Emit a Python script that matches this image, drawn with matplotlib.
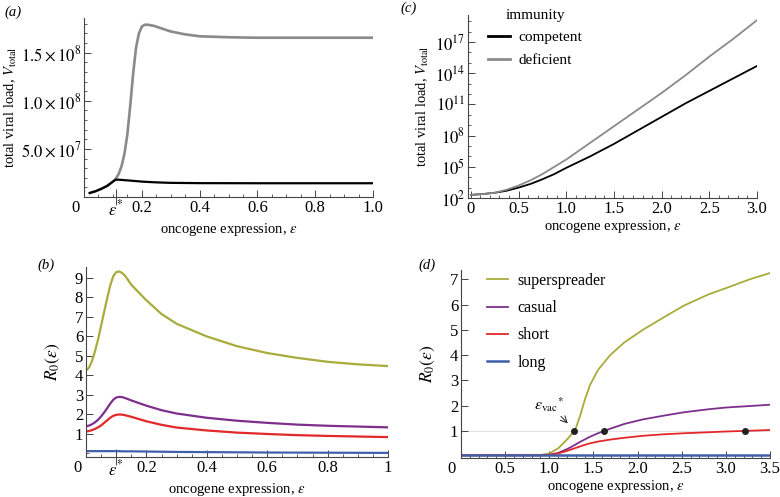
import matplotlib
matplotlib.use("Agg")
import matplotlib.pyplot as plt
import numpy as np
from matplotlib.ticker import MultipleLocator, FixedLocator, NullFormatter

plt.rcParams['font.family'] = ['Liberation Serif', 'DejaVu Serif']
plt.rcParams['mathtext.fontset'] = 'stix'
plt.rcParams['font.size'] = 10

# ---- panel (a): total viral load vs oncogene expression (linear) ----
eps_a_def = [0.02, 0.04, 0.06, 0.08, 0.10, 0.11, 0.12, 0.13, 0.14, 0.15, 0.16, 0.17, 0.18,
             0.19, 0.20, 0.21, 0.22, 0.24, 0.27, 0.30, 0.35, 0.40, 0.50, 0.60, 0.80, 1.00]
deficient_a = [0.42, 0.6, 0.85, 1.15, 1.6, 1.9, 2.4, 3.2, 4.5, 6.5, 9.5, 12.8, 15.5,
               17.0, 17.7, 17.9, 17.9, 17.8, 17.5, 17.2, 16.9, 16.7, 16.6, 16.55, 16.55, 16.55]
eps_a_comp = [0.02, 0.04, 0.06, 0.08, 0.10, 0.11, 0.12, 0.14, 0.17, 0.20, 0.25, 0.30, 0.40, 0.60, 1.00]
competent_a = [0.42, 0.6, 0.85, 1.15, 1.6, 1.8, 1.8, 1.75, 1.68, 1.6, 1.52, 1.47, 1.44, 1.43, 1.43]
eps_star_a = 0.11

# ---- panel (b): R0 vs oncogene expression ----
eps_b = [0, 0.01, 0.02, 0.03, 0.04, 0.05, 0.06, 0.07, 0.08, 0.09, 0.10, 0.11, 0.12, 0.13, 0.15,
         0.2, 0.25, 0.3, 0.4, 0.5, 0.6, 0.7, 0.8, 0.9, 1.0]
r0_super_b = [4.25, 4.4, 4.75, 5.25, 5.85, 6.55, 7.25, 7.95, 8.6, 9.08, 9.3, 9.33, 9.25, 9.1, 8.65,
              7.85, 7.15, 6.65, 6.0, 5.5, 5.15, 4.9, 4.7, 4.57, 4.48]
r0_casual_b = [1.4, 1.43, 1.5, 1.6, 1.73, 1.9, 2.1, 2.32, 2.55, 2.75, 2.87, 2.9, 2.89, 2.84, 2.72,
               2.45, 2.22, 2.05, 1.83, 1.68, 1.57, 1.48, 1.42, 1.38, 1.34]
r0_short_b = [1.13, 1.15, 1.2, 1.26, 1.34, 1.44, 1.57, 1.7, 1.83, 1.93, 1.98, 2.0, 1.99, 1.96, 1.88,
              1.65, 1.47, 1.33, 1.18, 1.07, 1.0, 0.94, 0.9, 0.87, 0.84]
r0_long_b = [0.12, 0.12, 0.12, 0.12, 0.12, 0.12, 0.12, 0.12, 0.12, 0.12, 0.12, 0.12, 0.11, 0.11, 0.11,
             0.1, 0.09, 0.08, 0.07, 0.06, 0.05, 0.045, 0.04, 0.035, 0.03]
eps_star_b = 0.10

# ---- panel (c): total viral load, log scale (log10 values) ----
eps_c = [0, 0.125, 0.25, 0.375, 0.5, 0.625, 0.75, 0.875, 1.0, 1.25, 1.5, 1.75, 2.0, 2.25, 2.5, 2.75, 3.0]
log_comp_c = [2.3, 2.38, 2.5, 2.7, 3.0, 3.35, 3.8, 4.3, 4.9, 6.0, 7.2, 8.5, 9.8, 11.1, 12.3, 13.5, 14.7]
log_def_c = [2.3, 2.38, 2.5, 2.8, 3.2, 3.7, 4.3, 5.0, 5.7, 7.3, 8.9, 10.5, 12.1, 13.8, 15.6, 17.3, 19.1]

# ---- panel (d): R0 with vaccination ----
eps_d = [0, 0.5, 0.9, 1.0, 1.1, 1.2, 1.25, 1.3, 1.35, 1.4, 1.46, 1.55, 1.69, 1.85, 2.06, 2.3, 2.52, 2.8, 3.0, 3.27, 3.5]
r0_super_d = [0.03, 0.03, 0.04, 0.1, 0.3, 0.65, 0.85, 1.1, 1.6, 2.2, 2.8, 3.4, 4.0, 4.5, 5.0, 5.5, 5.95, 6.4, 6.65, 7.0, 7.25]
r0_casual_d = [0.03, 0.03, 0.03, 0.05, 0.12, 0.27, 0.36, 0.46, 0.56, 0.65, 0.76, 0.9, 1.08, 1.27, 1.45, 1.6, 1.73, 1.85, 1.92, 1.98, 2.03]
r0_short_d = [0.03, 0.03, 0.03, 0.04, 0.1, 0.2, 0.26, 0.32, 0.38, 0.44, 0.5, 0.57, 0.65, 0.72, 0.8, 0.86, 0.9, 0.94, 0.97, 1.0, 1.03]
r0_long_d = [0.02] * len(eps_d)
dots_eps = [1.28, 1.62, 3.22]
dots_r0 = [1.0, 1.0, 1.0]

C_SUPER = '#a8ac3a'
C_CASUAL = '#7d2f8c'
C_SHORT = '#e3282b'
C_LONG = '#4060ad'
GREY = '#8a8a8a'
AXC = '#444444'
TICK_FS = 12
LAB_FS = 10.5


def style_axes(ax):
    for s in ['top', 'right']:
        ax.spines[s].set_visible(False)
    for s in ['left', 'bottom']:
        ax.spines[s].set_color(AXC)
        ax.spines[s].set_linewidth(0.8)
    ax.tick_params(which='major', direction='in', length=5, width=0.7, color=AXC, pad=2, labelsize=TICK_FS)
    ax.tick_params(which='minor', direction='in', length=2.5, width=0.6, color=AXC)


def zero_label(ax, dx=-6):
    ax.annotate('0', xy=(0, 0), xycoords=('data', 'axes fraction'), xytext=(dx, -2.5),
                textcoords='offset points', ha='center', va='top', fontsize=TICK_FS)


def star_tick(ax, pos, labels):
    ax.xaxis.set_major_locator(FixedLocator(pos))
    ax.set_xticklabels(labels)
    t = ax.xaxis.get_major_ticks()[0]
    t.tick1line.set_marker('|')
    t.tick1line.set_markersize(12)


fig = plt.figure(figsize=(7.8, 4.97), dpi=100)

# (a)
ax = fig.add_axes([84 / 780, 1 - 197 / 497, (373 - 84) / 780, (197 - 18) / 497])
style_axes(ax)
ax.plot(eps_a_def, np.array(deficient_a) * 1e7, color=GREY, lw=1.9)
ax.plot(eps_a_comp, np.array(competent_a) * 1e7, color='black', lw=1.6)
ax.set_xlim(0, 1.0)
ax.set_ylim(0, 1.86e8)
star_tick(ax, [eps_star_a, 0.2, 0.4, 0.6, 0.8, 1.0],
          [r'$\varepsilon^{*}$', '0.2', '0.4', '0.6', '0.8', '1.0'])
ax.xaxis.set_minor_locator(MultipleLocator(0.05))
ax.set_yticks([5e7, 1e8, 1.5e8])
ax.set_yticklabels([r'$5.0\times10^{7}$', r'$1.0\times10^{8}$', r'$1.5\times10^{8}$'])
ax.yaxis.set_minor_locator(MultipleLocator(1e7))
zero_label(ax)
ax.set_xlabel(r'oncogene expression, $\varepsilon$', fontsize=LAB_FS, labelpad=1)
ax.set_ylabel(r'total viral load, $V_{\rm total}$', fontsize=LAB_FS, labelpad=1)
fig.text(4 / 780, 1 - 12 / 497, '(a)', fontsize=LAB_FS, style='italic', va='center')

# (b)
ax = fig.add_axes([86 / 780, 1 - 457 / 497, (388 - 86) / 780, (457 - 267) / 497])
style_axes(ax)
ax.plot(eps_b, r0_super_b, color=C_SUPER, lw=1.6)
ax.plot(eps_b, r0_casual_b, color=C_CASUAL, lw=1.6)
ax.plot(eps_b, r0_short_b, color=C_SHORT, lw=1.6)
ax.plot(eps_b, r0_long_b, color=C_LONG, lw=1.6)
ax.set_xlim(0, 1.0)
ax.set_ylim(-0.18, 9.56)
star_tick(ax, [eps_star_b, 0.2, 0.4, 0.6, 0.8, 1.0],
          [r'$\varepsilon^{*}$', '0.2', '0.4', '0.6', '0.8', '1'])
ax.xaxis.set_minor_locator(MultipleLocator(0.05))
ax.set_yticks(range(1, 10))
ax.yaxis.set_minor_locator(FixedLocator([0]))
zero_label(ax)
ax.set_xlabel(r'oncogene expression, $\varepsilon$', fontsize=LAB_FS, labelpad=1)
ax.set_ylabel(r'$R_0(\varepsilon)$', fontsize=12.5, labelpad=9)
fig.text(37 / 780, 1 - 265 / 497, '(b)', fontsize=LAB_FS, style='italic', va='center')

# (c)
ax = fig.add_axes([468 / 780, 1 - 198 / 497, (757 - 468) / 780, (198 - 15) / 497])
style_axes(ax)
ax.plot(eps_c, 10 ** np.array(log_comp_c), color='black', lw=1.3, label='competent')
ax.plot(eps_c, 10 ** np.array(log_def_c), color=GREY, lw=1.3, label='deficient')
ax.set_yscale('log')
ax.set_xlim(-0.03, 3.0)
ax.set_ylim(1e2, 10 ** 19.6)
ax.set_xticks([0, 0.5, 1.0, 1.5, 2.0, 2.5, 3.0])
ax.set_xticklabels(['0', '0.5', '1.0', '1.5', '2.0', '2.5', '3.0'])
ax.xaxis.set_minor_locator(MultipleLocator(0.1))
ax.yaxis.set_major_locator(FixedLocator([10.0 ** k for k in [2, 5, 8, 11, 14, 17]]))
ax.set_yticklabels([r'$10^{%d}$' % k for k in [2, 5, 8, 11, 14, 17]])
ax.yaxis.set_minor_locator(FixedLocator([10.0 ** k for k in range(2, 20)]))
ax.yaxis.set_minor_formatter(NullFormatter())
ax.set_xlabel(r'oncogene expression, $\varepsilon$', fontsize=LAB_FS, labelpad=1)
ax.set_ylabel(r'total viral load, $V_{\rm total}$', fontsize=LAB_FS, labelpad=3)
leg = ax.legend(title='immunity', loc='upper left', bbox_to_anchor=(0.07, 1.035), frameon=False,
                fontsize=11, title_fontsize=11, handlelength=1.4, handletextpad=0.6,
                labelspacing=0.6, borderpad=0, borderaxespad=0)
for line in leg.get_lines():
    line.set_linewidth(2.0)
fig.text(400 / 780, 1 - 8 / 497, '(c)', fontsize=LAB_FS, style='italic', va='center')

# (d)
ax = fig.add_axes([461 / 780, 1 - 458 / 497, (770 - 461) / 780, (458 - 270) / 497])
style_axes(ax)
ax.axhline(1.0, color='#dddddd', lw=0.6, zorder=0)
ax.plot(eps_d, r0_super_d, color=C_SUPER, lw=1.3, label='superspreader')
ax.plot(eps_d, r0_casual_d, color=C_CASUAL, lw=1.3, label='casual')
ax.plot(eps_d, r0_short_d, color=C_SHORT, lw=1.3, label='short')
ax.plot(eps_d, r0_long_d, color=C_LONG, lw=1.8, label='long')
ax.plot(dots_eps, dots_r0, 'o', color='#222222', ms=4, zorder=5)
ax.set_xlim(0, 3.5)
ax.set_ylim(-0.08, 7.37)
ax.set_xticks([0.5, 1.0, 1.5, 2.0, 2.5, 3.0, 3.5])
ax.set_xticklabels(['0.5', '1.0', '1.5', '2.0', '2.5', '3.0', '3.5'])
ax.xaxis.set_minor_locator(MultipleLocator(0.1))
ax.set_yticks(range(1, 8))
zero_label(ax, dx=-7)
ax.annotate(r'$\varepsilon_{\rm vac}{}^{*}$', xy=(1.22, 1.25), xytext=(1.0, 2.05),
            ha='center', va='center', fontsize=11.5,
            arrowprops=dict(arrowstyle='->', color='#222222', lw=0.7, shrinkA=10, shrinkB=1))
ax.set_xlabel(r'oncogene expression, $\varepsilon$', fontsize=LAB_FS, labelpad=1)
ax.set_ylabel(r'$R_0(\varepsilon)$', fontsize=12.5, labelpad=9)
ax.legend(loc='upper left', bbox_to_anchor=(0.085, 0.984), frameon=False, fontsize=11.5,
          handlelength=1.3, handletextpad=0.6, labelspacing=0.7, borderpad=0, borderaxespad=0)
fig.text(418 / 780, 1 - 265 / 497, '(d)', fontsize=LAB_FS, style='italic', va='center')

fig.savefig('out.png', dpi=100)
